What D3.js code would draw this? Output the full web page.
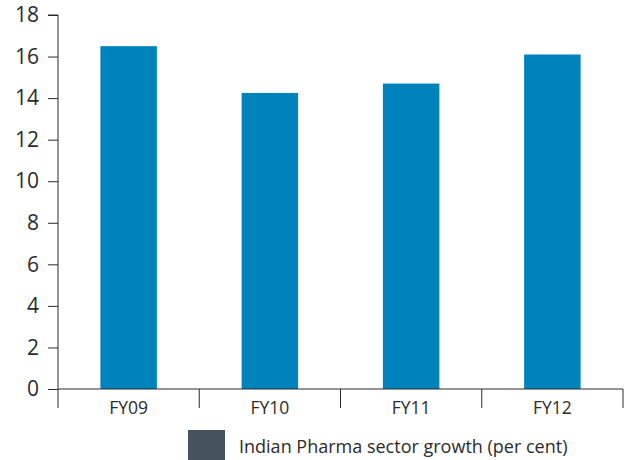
<!DOCTYPE html>
<html>
<head>
<meta charset="utf-8">
<script src="https://cdn.jsdelivr.net/npm/d3@7"></script>
<style>
    body { margin: 0; background: #fff; }
    text { font-family: 'Open Sans', sans-serif; fill: #2b2b2b; }
</style>
</head>
<body>
<div id="chart"></div>
<script>
const years = ['FY09', 'FY10', 'FY11', 'FY12'];
const growth = [16.5, 14.25, 14.7, 16.1];
const yTicks = [0, 2, 4, 6, 8, 10, 12, 14, 16, 18];
const legendLabel = 'Indian Pharma sector growth (per cent)';

const width = 633;
const height = 460;
const margin = { top: 15, right: 10, bottom: 71, left: 58 };

const svg = d3
    .select('#chart')
    .append('svg')
    .attr('width', width)
    .attr('height', height);

const x = d3
    .scaleBand()
    .domain(years)
    .range([margin.left, width - margin.right])
    .paddingInner(0.6)
    .paddingOuter(0.3);

// band edges for the category tick marks
const edges = d3
    .scaleBand()
    .domain(years)
    .range([margin.left, width - margin.right]);

const y = d3
    .scaleLinear()
    .domain([0, 18])
    .range([height - margin.bottom, margin.top]);

svg.append('g')
    .selectAll('rect')
    .data(years)
    .join('rect')
    .attr('x', (d) => x(d))
    .attr('width', x.bandwidth())
    .attr('y', (d, i) => y(growth[i]))
    .attr('height', (d, i) => y(0) - y(growth[i]))
    .attr('fill', '#0083bd');

const yAxis = d3.axisLeft(y).tickValues(yTicks).tickSize(10).tickPadding(9);
svg.append('g')
    .attr('transform', `translate(${margin.left},0)`)
    .call(yAxis)
    .call((g) => g.selectAll('text').style('font-size', '21px'))
    .call((g) => g.select('.domain').attr('stroke', '#2b2b2b').attr('d', `M-10,${y(18)}H0V${y(0)}`))
    .call((g) => g.selectAll('.tick line').attr('stroke', '#2b2b2b'));

// x axis baseline and tick marks at band boundaries
const xg = svg.append('g').attr('transform', `translate(0,${y(0)})`);
xg.append('line')
    .attr('x1', margin.left)
    .attr('x2', width - margin.right)
    .attr('stroke', '#2b2b2b');
xg.selectAll('.edge')
    .data(years.concat(['end']))
    .join('line')
    .attr('class', 'edge')
    .attr('x1', (d) => (d === 'end' ? edges.range()[1] : edges(d)))
    .attr('x2', (d) => (d === 'end' ? edges.range()[1] : edges(d)))
    .attr('y1', 0)
    .attr('y2', 19)
    .attr('stroke', '#2b2b2b');
xg.selectAll('.lbl')
    .data(years)
    .join('text')
    .attr('class', 'lbl')
    .attr('x', (d) => edges(d) + edges.bandwidth() / 2)
    .attr('y', 25)
    .attr('text-anchor', 'middle')
    .style('font-size', '17.5px')
    .text((d) => d);

const legend = svg.append('g').attr('transform', 'translate(188,430)');
legend.append('rect')
    .attr('width', 37)
    .attr('height', 30)
    .attr('fill', '#44535e');
legend.append('text')
    .attr('x', 51)
    .attr('y', 23)
    .style('font-size', '18px')
    .text(legendLabel);
</script>
</body>
</html>
